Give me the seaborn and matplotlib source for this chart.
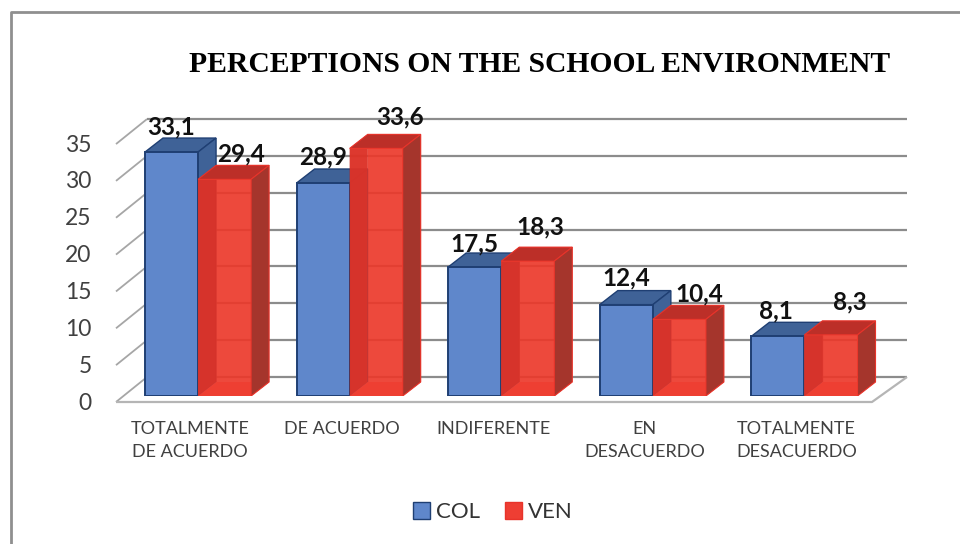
import numpy as np
import pandas as pd
import matplotlib
matplotlib.use('Agg')
import matplotlib.pyplot as plt
from matplotlib.lines import Line2D
from matplotlib.patches import Polygon, Rectangle
from matplotlib.transforms import ScaledTranslation
import seaborn as sns

categories = ['TOTALMENTE\nDE ACUERDO', 'DE ACUERDO', 'INDIFERENTE', 'EN\nDESACUERDO', 'TOTALMENTE\nDESACUERDO']
col_values = [33.1, 28.9, 17.5, 12.4, 8.1]
ven_values = [29.4, 33.6, 18.3, 10.4, 8.3]
y_ticks = [0, 5, 10, 15, 20, 25, 30, 35]

df = pd.DataFrame({'cat': categories * 2,
                   'serie': ['COL'] * 5 + ['VEN'] * 5,
                   'val': col_values + ven_values})

sns.set_theme(style='white')
plt.rcParams['font.family'] = ['Lato', 'DejaVu Sans']

W, H = 960, 544
fig = plt.figure(figsize=(9.6, 5.44), dpi=100, facecolor='white')
# axes box in pixels: left 122.25 is half a group left of the first category
left, right, bottom_px, top_px = 122.25, 880.25, 396.0, 100.0
ax = fig.add_axes([left / W, 1 - bottom_px / H, (right - left) / W, (bottom_px - top_px) / H])
ppu = 7.37  # pixels per value unit
ax.set_xlim(-0.5, 4.5)
ax.set_ylim(0, (bottom_px - top_px) / ppu)
ppx = (right - left) / 5  # pixels per category
ax.patch.set_alpha(0)


def dx(p):
    return p / ppx


def dy(p):
    return p / ppu


pal = {'COL': '#5F87CB', 'VEN': '#EE3E33'}
sns.barplot(data=df, x='cat', y='val', hue='serie', palette=pal, width=0.7, gap=0,
            saturation=1, ax=ax, zorder=5, legend=True)

# back wall lines, side lines and floor
kw = dict(clip_on=False, solid_capstyle='butt')
for v in y_ticks:
    yb = v + dy(19)
    yf = v - dy(6)
    x0 = -0.5 + dx(116 - left)
    x1 = -0.5 + dx(147 - left)
    x2 = -0.5 + dx(907 - left)
    ax.plot([x0, x1], [yf, yb], color='#A6A6A6', lw=1.3, zorder=1, **kw)
    ax.plot([x1, x2], [yb, yb], color='#8C8C8C', lw=1.6, zorder=1, **kw)
x0, x1, x2, x3 = [-0.5 + dx(p - left) for p in (116, 147, 907, 872)]
ax.plot([x0, x3, x2], [-dy(6), -dy(6), dy(19)], color='#B5B5B5', lw=1.6, zorder=1, **kw)

col_n = len(categories)
for i, p in enumerate(ax.patches[:col_n * 2]):
    x, w, h = p.get_x(), p.get_width(), p.get_height()
    d_x, d_y = dx(18), dy(14)
    is_col = i < col_n
    z = 3 + (i % col_n) * 0.1 + (0.05 if not is_col else 0)
    if is_col:
        p.set_edgecolor('#1F3F73')
        p.set_linewidth(1.4)
        p.set_zorder(z + 0.03)
        top = Polygon([(x, h), (x + d_x, h + d_y), (x + w + d_x, h + d_y), (x + w, h)],
                      fc='#3F6297', ec='#1F3F73', lw=1.0, zorder=z)
        side = Polygon([(x + w, 0), (x + w + d_x, d_y), (x + w + d_x, h + d_y), (x + w, h)],
                       fc='#3F6297', ec='#1F3F73', lw=1.0, zorder=z)
        ax.add_patch(top)
        ax.add_patch(side)
    else:
        p.set_facecolor('#EE3B2E')
        p.set_alpha(0.65)
        p.set_edgecolor('none')
        p.set_zorder(z + 0.03)
        # inner faces seen through the glassy front
        back = Rectangle((x + d_x, d_y), w, h, fc='#E8301F', ec='none', alpha=0.75, zorder=z)
        inner = Polygon([(x, 0), (x + d_x, d_y), (x + d_x, h + d_y), (x, h)],
                        fc='#B8201A', ec='none', alpha=0.9, zorder=z)
        floor = Polygon([(x, 0), (x + d_x, d_y), (x + w + d_x, d_y), (x + w, 0)],
                        fc='#F0483C', ec='none', zorder=z)
        top = Polygon([(x, h), (x + d_x, h + d_y), (x + w + d_x, h + d_y), (x + w, h)],
                      fc='#BC2F28', ec='#E8332A', lw=0.8, zorder=z + 0.01)
        side = Polygon([(x + w, 0), (x + w + d_x, d_y), (x + w + d_x, h + d_y), (x + w, h)],
                       fc='#A5352C', ec='#E8332A', lw=0.8, zorder=z + 0.01)
        for poly in (back, inner, floor, top, side):
            ax.add_patch(poly)

# data labels, shifted by hand like in the source
col_shift = [(0, 25), (0, 26), (0, 23), (0, 27), (-2, 25)]
ven_shift = [(16, 25), (24, 31), (13, 34), (20, 25), (19, 33)]
values = col_values + ven_values
shifts = col_shift + ven_shift
for p, v, s in zip(ax.patches[:col_n * 2], values, shifts):
    ax.text(p.get_x() + p.get_width() / 2 + dx(s[0]), v + dy(s[1]), f'{v:.1f}'.replace('.', ','),
            ha='center', va='center', fontsize=17.5, fontweight='bold', color='#111111', zorder=20)

sns.despine(ax=ax, left=True, bottom=True)
ax.set_xlabel('')
ax.set_ylabel('')
ax.set_yticks(y_ticks)
ax.set_yticklabels(y_ticks, fontsize=16.5, color='#404040')
ax.tick_params(axis='y', length=0, pad=22)
ax.tick_params(axis='x', length=0, pad=18, labelsize=13, labelcolor='#404040')
off = ScaledTranslation(0, -5 / 100, fig.dpi_scale_trans)
for lab in ax.get_yticklabels():
    lab.set_transform(lab.get_transform() + off)
ax.set_xticks(range(col_n))
ax.set_xticklabels(categories, linespacing=1.52)
off_x = ScaledTranslation(-8 / 100, 0, fig.dpi_scale_trans)
for lab in ax.get_xticklabels():
    lab.set_transform(lab.get_transform() + off_x)

fig.text(540 / W, 1 - 65 / H, 'PERCEPTIONS ON THE SCHOOL ENVIRONMENT', family='Liberation Serif',
         fontweight='bold', fontsize=21.3, ha='center', va='center', color='black')

handles, labels = ax.get_legend_handles_labels()
for h in handles:
    h.set_edgecolor('#1F3F73' if h.get_facecolor()[2] > 0.5 else '#E8332A')
    h.set_alpha(1)
leg = ax.legend(handles, labels, loc='center', bbox_to_anchor=(493 / W, 1 - 512 / H),
                bbox_transform=fig.transFigure, ncol=2, frameon=False, fontsize=16,
                handlelength=0.78, handleheight=0.78, handletextpad=0.28, columnspacing=1.1,
                labelcolor='#333333')

# chart border, only top and left are in the crop
fig.add_artist(Line2D([10.5 / W, 10.5 / W, 1], [0, 1 - 12 / H, 1 - 12 / H], color='#8F8F8F', lw=2,
                      transform=fig.transFigure))

fig.savefig('out.png', dpi=100)
